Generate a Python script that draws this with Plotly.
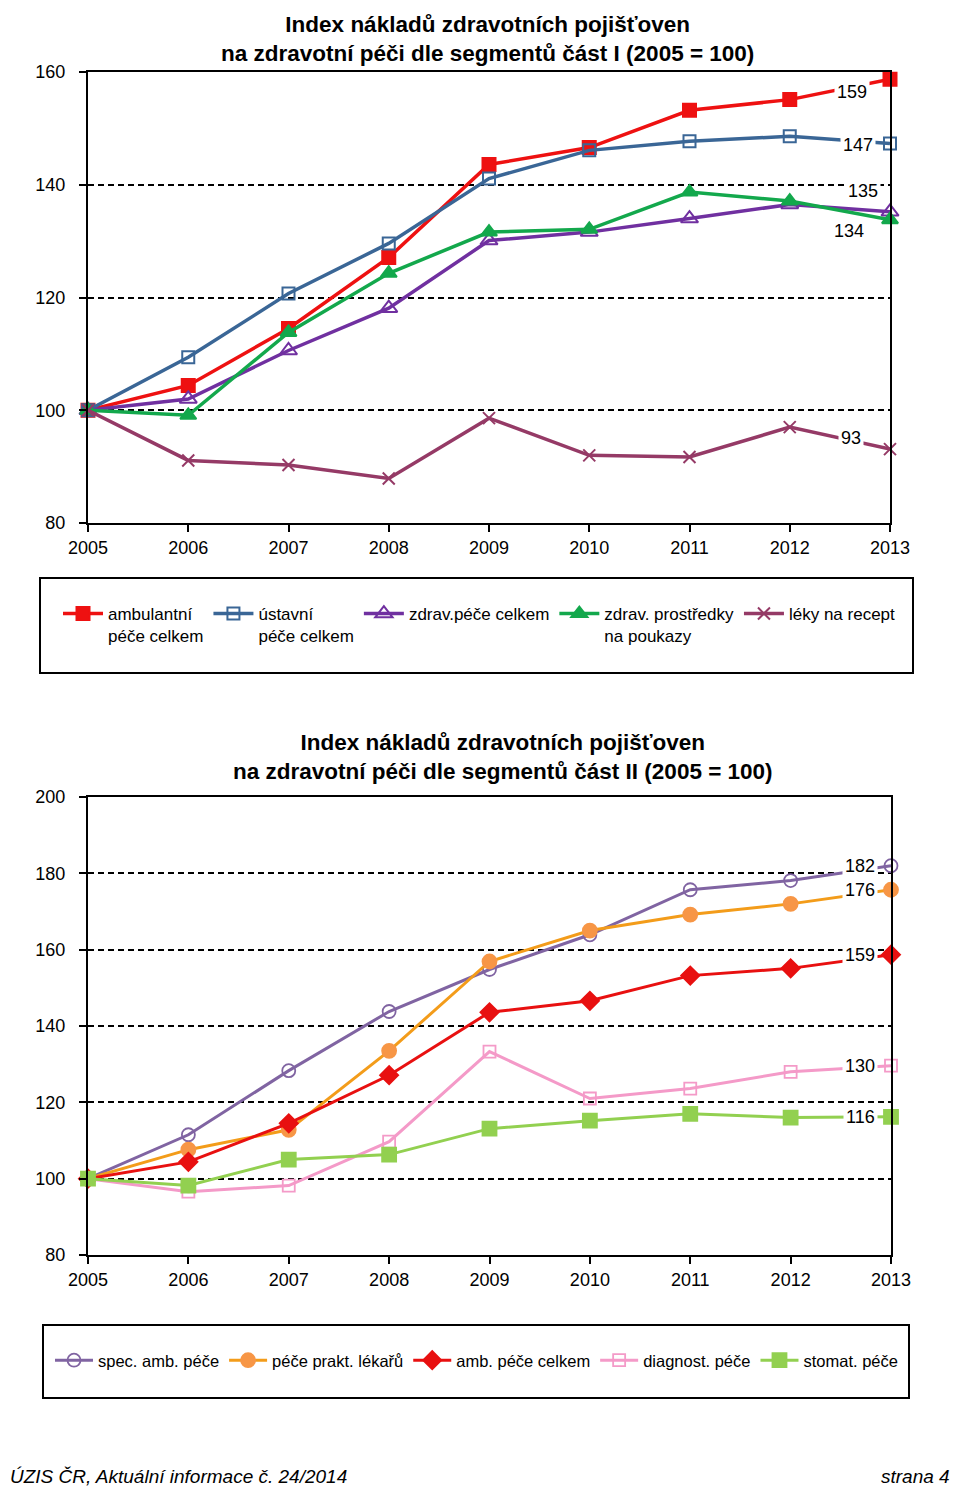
import plotly.graph_objects as go

years = [2005, 2006, 2007, 2008, 2009, 2010, 2011, 2012, 2013]

# Part I
ambulantni = [100, 104.4, 114.5, 127.1, 143.6, 146.6, 153.2, 155.1, 158.7]
ustavni = [100, 109.4, 120.7, 129.6, 141.1, 146.1, 147.7, 148.6, 147.3]
zdrav_pece = [100, 102.0, 110.6, 118.1, 130.1, 131.6, 134.0, 136.5, 135.2]
zdrav_prostredky = [100, 99.1, 113.8, 124.3, 131.6, 132.1, 138.7, 137.1, 133.8]
leky = [100, 91.1, 90.3, 87.9, 98.6, 92.0, 91.7, 97.0, 93.1]

# Part II
spec_amb = [100, 111.5, 128.3, 143.8, 154.8, 163.9, 175.7, 178.1, 182.0]
prakt = [100, 107.6, 112.8, 133.5, 156.9, 165.0, 169.2, 172.0, 175.7]
amb_celkem = [100, 104.4, 114.5, 127.1, 143.6, 146.6, 153.2, 155.1, 158.7]
diagnost = [100, 96.6, 98.2, 109.7, 133.3, 121.0, 123.6, 128.0, 129.6]
stomat = [100, 98.2, 105.0, 106.3, 113.1, 115.2, 117.0, 116.0, 116.2]

title1 = "Index nákladů zdravotních pojišťoven<br>na zdravotní péči dle segmentů část I (2005 = 100)"
title2 = "Index nákladů zdravotních pojišťoven<br>na zdravotní péči dle segmentů část II (2005 = 100)"
footer_left = "ÚZIS ČR, Aktuální informace č. 24/2014"
footer_right = "strana 4"

# the page body has an 8px margin, so the figure covers page pixels 8..960 / 8..1487
OFF = 8
W, H = 960 - OFF, 1495 - 2 * OFF
FONT = "Liberation Sans, Arial, sans-serif"


def px(x):
    return (x - OFF) / W


def py(y):
    return 1 - (y - OFF) / H


fig = go.Figure()

# (name, values, line colour, symbol, size, marker colour, label offset right/down in px)
top_series = [
    ("ambulantní<br>péče celkem", ambulantni, "#EE1111", "square", 13, "#EE1111", (-38, 13)),
    ("ústavní<br>péče celkem", ustavni, "#3A6696", "square-open", 12, "#3A6696", (-32, 1)),
    ("zdrav.péče celkem", zdrav_pece, "#7030A0", "triangle-up-open", 15, "#7030A0", (-27, -21)),
    ("zdrav. prostředky<br>na poukazy", zdrav_prostredky, "#13A84C", "triangle-up", 14, "#13A84C", (-41, 11)),
    ("léky na recept", leky, "#953A66", "x-thin-open", 12, "#953A66", (-39, -11)),
]

bottom_series = [
    ("spec. amb. péče", spec_amb, "#8064A2", "circle-open", 13, "#8064A2", (-31, 0)),
    ("péče prakt. lékařů", prakt, "#F39C1A", "circle", 14, "#F79646", (-31, 0)),
    ("amb. péče celkem", amb_celkem, "#E81010", "diamond", 14, "#E81010", (-31, 0)),
    ("diagnost. péče", diagnost, "#F49AC8", "square-open", 12, "#F49AC8", (-31, 0)),
    ("stomat. péče", stomat, "#92D050", "square", 14, "#92D050", (-31, 0)),
]

annotations = []

for name, vals, col, sym, size, mcol, (dx, dy) in top_series:
    fig.add_trace(go.Scatter(
        x=years, y=vals, name=name, mode="lines+markers",
        line=dict(color=col, width=3.5),
        marker=dict(symbol=sym, size=size, color=mcol, line=dict(color=mcol, width=2)),
        cliponaxis=False, xaxis="x", yaxis="y", legend="legend",
    ))
    annotations.append(dict(
        x=years[-1], y=vals[-1], xref="x", yref="y", text=str(round(vals[-1])),
        showarrow=False, xshift=dx, yshift=-dy, bgcolor="white", borderpad=2,
        font=dict(family=FONT, size=18, color="black"),
    ))

for name, vals, col, sym, size, mcol, (dx, dy) in bottom_series:
    fig.add_trace(go.Scatter(
        x=years, y=vals, name=name, mode="lines+markers",
        line=dict(color=col, width=3),
        marker=dict(symbol=sym, size=size, color=mcol, line=dict(color=mcol, width=1.8)),
        cliponaxis=False, xaxis="x2", yaxis="y2", legend="legend2",
    ))
    annotations.append(dict(
        x=years[-1], y=vals[-1], xref="x2", yref="y2", text=str(round(vals[-1])),
        showarrow=False, xshift=dx, yshift=-dy, bgcolor="white", borderpad=2,
        font=dict(family=FONT, size=18, color="black"),
    ))

annotations += [
    dict(x=px(487), y=py(10), xref="paper", yref="paper", text="<b>" + title1 + "</b>",
         showarrow=False, font=dict(family=FONT, size=22.5, color="black"), align="center",
         xanchor="center", yanchor="top"),
    dict(x=px(503), y=py(757), xref="paper", yref="paper", text="<b>" + title2 + "</b>",
         showarrow=False, font=dict(family=FONT, size=22.5, color="black"), align="center",
         xanchor="center", yanchor="middle"),
    dict(x=0, y=py(1476), xref="paper", yref="paper", text="<i>" + footer_left + "</i>",
         showarrow=False, font=dict(family=FONT, size=19, color="black"),
         xanchor="left", yanchor="middle"),
    dict(x=px(952), y=py(1476), xref="paper", yref="paper", text="<i>" + footer_right + "</i>",
         showarrow=False, font=dict(family=FONT, size=19, color="black"),
         xanchor="right", yanchor="middle"),
]

axis_common = dict(
    showline=True, linecolor="black", linewidth=2, mirror=True,
    ticks="outside", ticklen=7, tickwidth=2, tickcolor="black",
    zeroline=False, automargin=False, tickfont=dict(family=FONT, size=18, color="black"),
)

fig.update_layout(
    width=W, height=H,
    margin=dict(l=0, r=0, t=0, b=0, autoexpand=False),
    paper_bgcolor="white", plot_bgcolor="white",
    xaxis=dict(domain=[px(88), px(890)], range=[2005, 2013], tickmode="array", tickvals=years,
               showgrid=False, anchor="y", **axis_common),
    yaxis=dict(domain=[py(523), py(72)], range=[80, 160], tickmode="linear", tick0=80, dtick=20,
               showgrid=True, gridcolor="black", gridwidth=1.5, griddash="6px,4px", anchor="x",
               ticklabelstandoff=10, **axis_common),
    xaxis2=dict(domain=[px(88), px(891)], range=[2005, 2013], tickmode="array", tickvals=years,
                showgrid=False, anchor="y2", **axis_common),
    yaxis2=dict(domain=[py(1255), py(797)], range=[80, 200], tickmode="linear", tick0=80, dtick=20,
                showgrid=True, gridcolor="black", gridwidth=1.5, griddash="6px,4px", anchor="x2",
                ticklabelstandoff=10, **axis_common),
    legend=dict(orientation="h", x=px(58), y=py(596), xanchor="left", yanchor="top",
                font=dict(family=FONT, size=17, color="black"), itemwidth=40, valign="top",
                bgcolor="rgba(0,0,0,0)", traceorder="normal"),
    legend2=dict(orientation="h", x=px(50), y=py(1343), xanchor="left", yanchor="top",
                 font=dict(family=FONT, size=16.5, color="black"), itemwidth=38, valign="middle",
                 bgcolor="rgba(0,0,0,0)", traceorder="normal"),
    shapes=[
        dict(type="rect", xref="paper", yref="paper", x0=px(40), x1=px(913), y0=py(673), y1=py(578),
             line=dict(color="black", width=2)),
        dict(type="rect", xref="paper", yref="paper", x0=px(43), x1=px(909), y0=py(1398), y1=py(1325),
             line=dict(color="black", width=2)),
    ],
    annotations=annotations,
    showlegend=True,
)

fig.write_html("out.html")
